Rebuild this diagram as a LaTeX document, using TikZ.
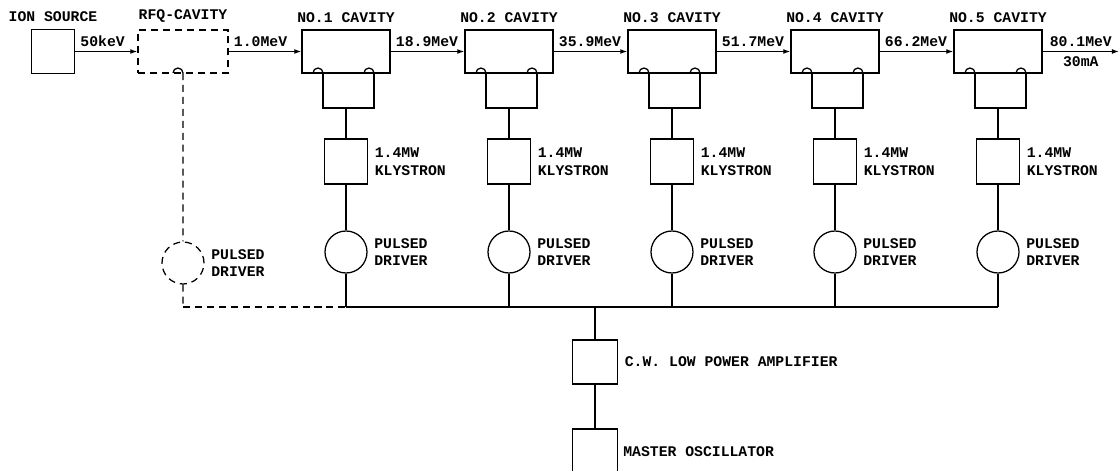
\documentclass[tikz,border=0pt]{standalone}
\usepackage{fontspec}
\setmonofont{Liberation Mono}
\usetikzlibrary{arrows.meta}
\tikzset{
  box/.style={
    draw,
    inner sep = 0pt,
    minimum width=1.075cm,
    minimum height=1.1cm
  },
  cavity/.style={
    box,
    minimum width=2.2cm,
    minimum height=1.075cm
  },
  driver/.style={
    draw,
    shape = circle,
    inner sep = 0pt,
    minimum size=1.05cm
  },
  broken/.style={
    dash pattern=on 5pt off 3.5pt
  },
  beam/.style={
    -{Latex[length=5pt,width=3.5pt]}
  }
}
\begin{document}
\begin{tikzpicture}[x=0.025cm, y=-0.025cm, line width=0.9pt,
    font=\ttfamily\bfseries\fontsize{10.5}{12.5}\selectfont, label distance=1pt]
  \useasboundingbox (0,0) rectangle (1120,471);
  % injector
  \node[box, label={[name=lion]above:ION SOURCE}] (ion) at (53,51.5) {};
  \node[cavity, broken, minimum width=2.25cm,
        label={[name=lrfq]above:RFQ-CAVITY}] (rfq) at (183,51.5) {};
  \draw[beam] (ion) -- node[name=e0, anchor=south west, pos=0] {50keV} (rfq);
  \draw (173,73) arc[start angle=180, end angle=0, radius=0.125cm] coordinate (rb);
  \node[driver, broken, label={[name=lp0, align=left]right:PULSED\\DRIVER}] (d0) at (183,263) {};
  \coordinate (b0) at (183,307);
  \draw[broken] (rb) -- (d0) (d0) -- (b0);
  % main linac
  \foreach \i in {1,2,3,4,5}{
    \pgfmathsetmacro\cx{346+163*(\i-1)}
    \node[cavity, label={[name=lc\i]above:NO.\i\ CAVITY}] (c\i) at (\cx,51.5) {};
    \draw (\cx-33,73) arc[start angle=180, end angle=0, radius=0.125cm] coordinate (ul\i);
    \draw (\cx+18,73) arc[start angle=180, end angle=0, radius=0.125cm] coordinate (ur\i);
    \coordinate (u\i) at (\cx,108);
    \draw (ul\i) |- (u\i) -| (ur\i);
    \node[box, minimum height=1.125cm,
          label={[name=lk\i, align=left]right:1.4MW\\KLYSTRON}] (k\i) at (\cx,161.5) {};
    \node[driver, label={[name=lp\i, align=left]right:PULSED\\DRIVER}] (d\i) at (\cx,252) {};
    \coordinate (b\i) at (\cx,307);
    \draw (u\i) -- (k\i) (k\i) -- (d\i) (d\i) -- (b\i);
  }
  \draw[beam] (rfq) -- node[name=e1, anchor=south west, pos=0] {1.0MeV} (c1);
  \foreach \i/\j/\e in {1/2/18.9,2/3/35.9,3/4/51.7,4/5/66.2}
    \draw[beam] (c\i) -- node[name=e\j, anchor=south west, pos=0] {\e MeV} (c\j);
  \coordinate (out) at (1119,51.5);
  \draw[beam] (c5) -- node[name=e6, above] {80.1MeV} node[name=i6, below] {30mA} (out);
  % rf distribution
  \draw[broken] (b0) -- (b1);
  \draw (b1) -- (b5);
  \coordinate (bm) at (595,307);
  \node[box, minimum width=1.125cm,
        label={[name=lamp]right:C.W. LOW POWER AMPLIFIER}] (amp) at (595,362) {};
  \node[box, minimum width=1.125cm, minimum height=2cm] (osc) at (595,469) {};
  \node[anchor=west] (losc) at (618,452) {MASTER OSCILLATOR};
  \draw (bm) -- (amp) (amp) -- (osc);
\end{tikzpicture}
\end{document}
